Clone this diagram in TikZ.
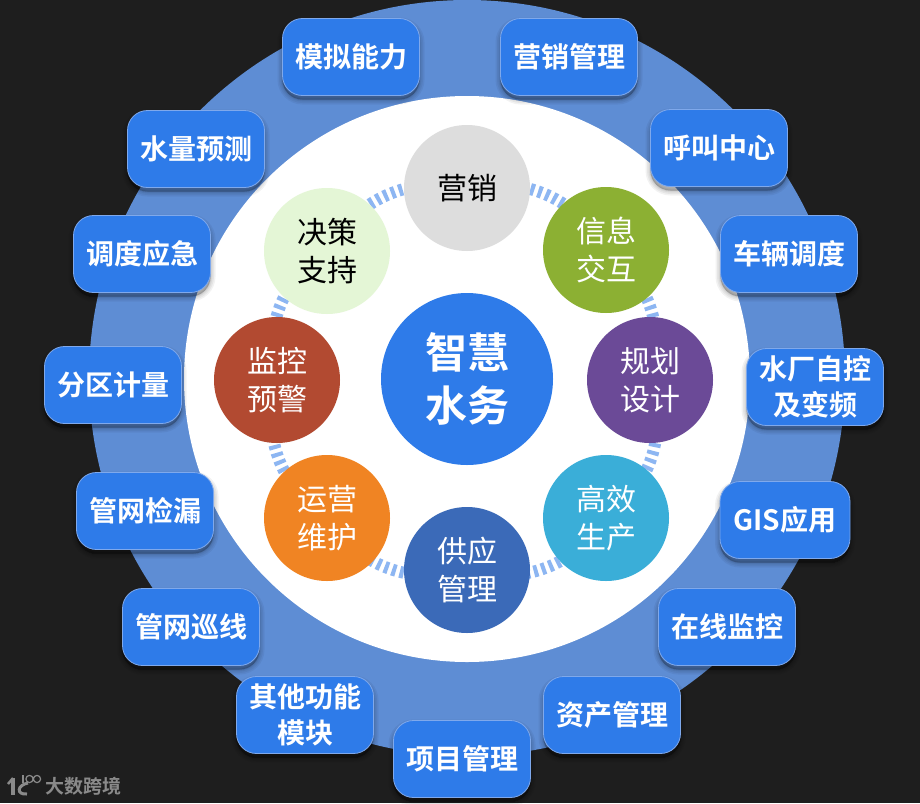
\documentclass[tikz,border=0pt]{standalone}
\usepackage{fontspec}
\setmainfont{Noto Sans CJK SC}[BoldFont={Noto Sans CJK SC Bold}]
\definecolor{bgc}{HTML}{1E1E1E}
\definecolor{ringc}{HTML}{5E8DD4}
\definecolor{boxc}{HTML}{2E7BE9}
\definecolor{boxe}{HTML}{7FA9EC}
\definecolor{dashc}{HTML}{8DB6F2}
\definecolor{logoc}{HTML}{8A8A8A}
\tikzset{
  softshade/.style={preaction={draw=black,fill=black,draw opacity=.05,fill opacity=.05,line width=#1,transform canvas={yshift=-4pt}}},
  modbox/.style={draw=boxe,line width=0.8pt,fill=boxc,rounded corners=20pt,minimum width=137pt,minimum height=77pt,
    text=white,font=\fontsize{28pt}{36pt}\selectfont\bfseries,align=center,inner sep=0pt,
    softshade=10pt,softshade=7pt,softshade=4pt,softshade=2pt,softshade=0.5pt},
  topic/.style={circle,minimum size=126pt,inner sep=0pt,align=center,font=\fontsize{30pt}{38pt}\selectfont,text=white},
  link/.style={draw=dashc,line width=12pt,dash pattern=on 4pt off 4pt,bend left=36},
}
\begin{document}
\begin{tikzpicture}[x=1pt,y=-1pt]
\useasboundingbox (0,0) rectangle (920,803);
\fill[bgc] (0,0) rectangle (920,803);
\fill[ringc] (467,378) circle (378pt);
\fill[white] (467,379) circle (283pt);
\path
 (467,188) coordinate (ca) (606,250) coordinate (cb) (650,380) coordinate (cc) (606,518) coordinate (cd)
 (467,570) coordinate (ce) (327,518) coordinate (cf) (277,380) coordinate (cg) (327,251) coordinate (ch);
\draw[link] (ca) to (cb);
\draw[link] (cb) to (cc);
\draw[link] (cc) to (cd);
\draw[link] (cd) to (ce);
\draw[link] (ce) to (cf);
\draw[link] (cf) to (cg);
\draw[link] (cg) to (ch);
\draw[link] (ch) to (ca);
\node[topic,fill=black!13.5,text=black] (n1) at (ca) {营销};
\node[topic,fill={rgb,255:red,140;green,176;blue,51}] (n2) at (cb) {信息\\交互};
\node[topic,fill={rgb,255:red,107;green,74;blue,151}] (n3) at (cc) {规划\\设计};
\node[topic,fill={rgb,255:red,58;green,174;blue,216}] (n4) at (cd) {高效\\生产};
\node[topic,fill={rgb,255:red,59;green,106;blue,184}] (n5) at (ce) {供应\\管理};
\node[topic,fill={rgb,255:red,240;green,132;blue,35}] (n6) at (cf) {运营\\维护};
\node[topic,fill={rgb,255:red,178;green,74;blue,49}] (n7) at (cg) {监控\\预警};
\node[topic,fill={rgb,255:red,228;green,246;blue,214},text=black] (n8) at (ch) {决策\\支持};
\node[circle,fill=boxc,minimum size=172pt,inner sep=0pt,align=center,text=white,font=\fontsize{42pt}{53pt}\selectfont\bfseries] (hub) at (467,379) {智慧\\水务};
\node[modbox] (b1) at (351,57) {模拟能力};
\node[modbox] (b2) at (569,57) {营销管理};
\node[modbox] (b3) at (719,148) {呼叫中心};
\node[modbox] (b4) at (196,149) {水量预测};
\node[modbox] (b5) at (142,254) {调度应急};
\node[modbox] (b6) at (789,254) {车辆调度};
\node[modbox] (b7) at (113,385) {分区计量};
\node[modbox] (b8) at (815,387) {水厂自控\\及变频};
\node[modbox] (b9) at (145,511) {管网检漏};
\node[modbox,minimum width=130pt] (b10) at (785,520) {GIS应用};
\node[modbox] (b11) at (191,627) {管网巡线};
\node[modbox] (b12) at (727,627) {在线监控};
\node[modbox] (b13) at (305,715) {其他功能\\模块};
\node[modbox] (b14) at (612,715) {资产管理};
\node[modbox] (b15) at (462,759) {项目管理};
% logo
\node[text=logoc,font=\fontsize{19pt}{19pt}\selectfont\bfseries,inner sep=0pt] (logo) at (83,786) {大数跨境};
\draw[logoc,line width=3.5pt] (13,778) -- (13,795);
\draw[logoc,line width=2.5pt] (8,784) -- (13,778);
\draw[logoc,line width=3pt] (28,783) .. controls (17,785) and (16,795) .. (27,794);
\draw[logoc,line width=1.2pt] (23,775) -- (23,783);
\draw[logoc,line width=1.2pt] (29.5,779) circle (3.6pt) (37,779) circle (3.6pt);
\end{tikzpicture}
\end{document}
